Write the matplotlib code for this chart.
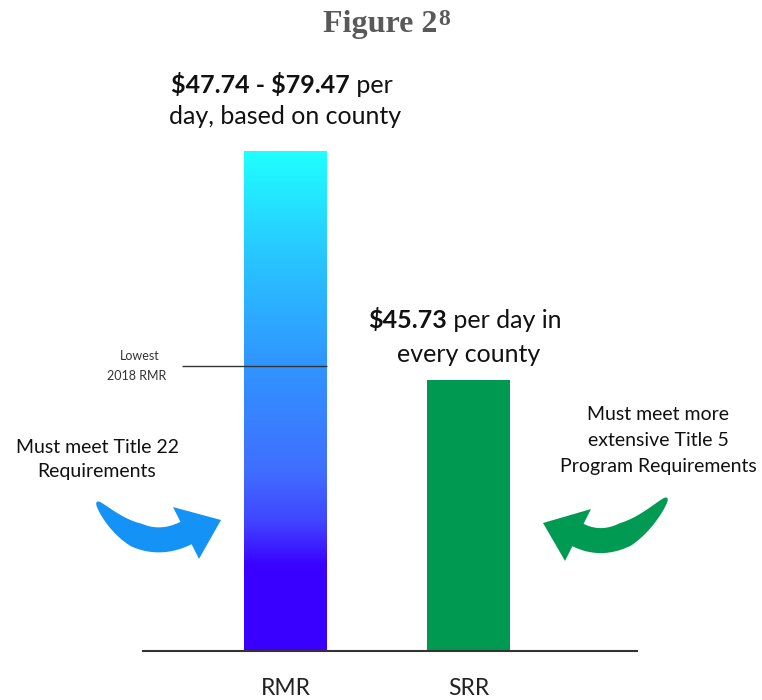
import numpy as np
import matplotlib.pyplot as plt
from matplotlib.colors import LinearSegmentedColormap
from matplotlib.patches import Polygon

plt.rcParams['font.family'] = ['Lato', 'DejaVu Sans']

# data
categories = ['RMR', 'SRR']
rmr_low = 47.74
rmr_high = 79.47
srr_rate = 45.73
values = [rmr_high, srr_rate]

W, H = 762, 700
base = 5.8      # value where the drawn baseline sits
top = 101.72

fig = plt.figure(figsize=(W / 100, H / 100), dpi=100)
ax = fig.add_axes([143 / W, 49 / H, 494 / W, 651 / H])
ax.set_xlim(-0.779, 1.921)
ax.set_ylim(base, top)

x = np.arange(len(categories))
bw = 0.45
bars = ax.bar(x, values, width=bw, color=['none', '#009951'], zorder=2)

# gradient fill for the RMR bar
grad = LinearSegmentedColormap.from_list('rmr', [
    (0.0, '#3A00FF'), (0.17, '#3A00FF'), (0.26, '#4146FF'), (0.36, '#406EFF'),
    (0.58, '#3096FF'), (0.80, '#28C8FF'), (1.0, '#20FFFF')])
img = ax.imshow(np.linspace(0, 1, 256).reshape(-1, 1), cmap=grad, origin='lower',
                aspect='auto', extent=[x[0] - bw / 2, x[0] + bw / 2, base, rmr_high], zorder=1)
img.set_clip_path(bars[0])

# lowest RMR marker
ax.hlines(rmr_low, -0.566, x[0] + bw / 2, color='#333333', lw=1, zorder=3)
ax.annotate('Lowest', (-0.566, rmr_low), xytext=(-42, 6), textcoords='offset pixels',
            ha='center', va='baseline', fontsize=9, color='#333333')
ax.annotate('2018 RMR', (-0.566, rmr_low), xytext=(-45, -14), textcoords='offset pixels',
            ha='center', va='baseline', fontsize=9, color='#333333')

for s in ['top', 'left', 'right']:
    ax.spines[s].set_visible(False)
ax.spines['bottom'].set_color('#333333')
ax.spines['bottom'].set_linewidth(1.5)
ax.set_yticks([])
ax.set_xticks(x, categories)
ax.tick_params(axis='x', length=0, pad=19.5, labelsize=16.5, labelcolor='#222222')

# value labels above the bars (bold part + normal part)
def two_part(i, val, bold, normal, dy):
    kw = dict(textcoords='offset pixels', va='baseline', fontsize=18,
              color='#111111', parse_math=False)
    a = ax.annotate(bold, (x[i], val), xytext=(0, dy), ha='right', fontweight='bold', **kw)
    b = ax.annotate(normal, (x[i], val), xytext=(0, dy), ha='left', **kw)
    return a, b

def one_line(i, val, s, dy):
    ax.annotate(s, (x[i], val), xytext=(0, dy), textcoords='offset pixels', ha='center',
                va='baseline', fontsize=18, color='#111111')

pairs = [two_part(0, rmr_high, '$47.74 - $79.47', ' per', 58),
         two_part(1, srr_rate, '$45.73', ' per day in', 52)]
one_line(0, rmr_high, 'day, based on county', 27)
one_line(1, srr_rate, 'every county', 18)

fig.canvas.draw()
for a, b in pairs:
    w1 = a.get_window_extent().width
    w2 = b.get_window_extent().width
    off = (w1 - w2) / 2 - 4
    a.xyann = (off, a.xyann[1])
    b.xyann = (off, b.xyann[1])

def fpos(px, py):
    return px / W, 1 - py / H

# side notes
for s, py in [('Must meet Title 22', 453), ('Requirements', 477)]:
    fig.text(*fpos(97, py), s, ha='center', va='baseline', fontsize=14, color='#111111')
for s, py in [('Must meet more', 420), ('extensive Title 5', 446), ('Program Requirements', 472)]:
    fig.text(*fpos(658, py), s, ha='center', va='baseline', fontsize=14, color='#111111')

# curved arrows, drawn as tapered polygons in figure pixels
def curved_arrow(p0, c, p2, tip, w0, w1, hw, color):
    p0, c, p2, tip = (np.array(v, float) for v in (p0, c, p2, tip))
    t = np.linspace(0, 1, 80)[:, None]
    pts = (1 - t) ** 2 * p0 + 2 * (1 - t) * t * c + t ** 2 * p2
    d = 2 * (1 - t) * (c - p0) + 2 * t * (p2 - c)
    n = np.column_stack([-d[:, 1], d[:, 0]]) / np.linalg.norm(d, axis=1)[:, None]
    w = w0 + (w1 - w0) * np.clip(t / 0.45, 0, 1) ** 0.6
    left = pts + n * w / 2
    right = pts - n * w / 2
    outline = np.vstack([left, p2 + n[-1] * hw / 2, tip, p2 - n[-1] * hw / 2, right[::-1]])
    outline = np.array([fpos(px, py) for px, py in outline])
    fig.add_artist(Polygon(outline, closed=True, transform=fig.transFigure,
                           facecolor=color, edgecolor='none'))

curved_arrow((97, 502), (140, 556), (186, 533), (221, 520), 2, 25, 58, '#1592F5')
curved_arrow((667, 498), (620, 556), (578, 535), (543, 523), 2, 25, 58, '#009A52')

# title
t = fig.text(*fpos(323, 32), 'Figure 2', ha='left', va='baseline', fontsize=23,
             fontweight='bold', family='Liberation Serif', color='#595959')
fig.canvas.draw()
tb = t.get_window_extent()
fig.text((tb.x1 + 1) / W, 1 - 25 / H, '8', ha='left', va='baseline', fontsize=17,
         fontweight='bold', family='Liberation Serif', color='#595959')

fig.savefig('out.png', dpi=100)
